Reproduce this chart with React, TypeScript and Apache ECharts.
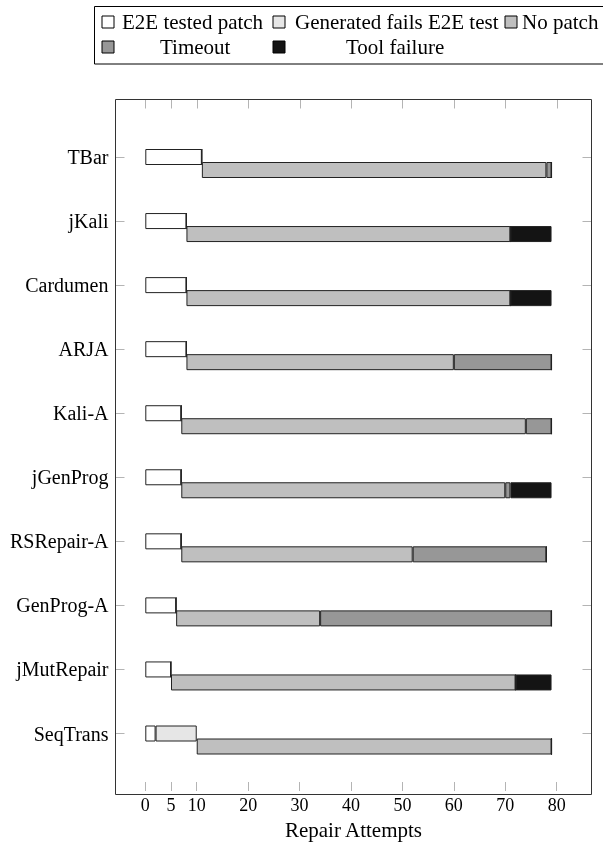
import React, { useEffect, useRef } from "react";
import * as echarts from "echarts";

const categories = ["TBar", "jKali", "Cardumen", "ARJA", "Kali-A", "jGenProg", "RSRepair-A", "GenProg-A", "jMutRepair", "SeqTrans"];
const e2eTested = [11, 8, 8, 8, 7, 7, 7, 6, 5, 2];
const generatedFails = [0, 0, 0, 0, 0, 0, 0, 0, 0, 8];
const noPatch = [67, 63, 63, 52, 67, 63, 45, 28, 67, 69];
const timeout = [1, 0, 0, 19, 5, 1, 26, 45, 0, 0];
const toolFailure = [0, 8, 8, 0, 0, 8, 0, 0, 7, 0];
const xTicks = [0, 5, 10, 20, 30, 40, 50, 60, 70, 80];

const FONT = "Liberation Serif";
const EDGE = "#222";
const TICK = "#b4b4b4";

export default function App() {
  const ref = useRef<HTMLDivElement>(null);
  useEffect(() => {
    if (!ref.current) return;
    const chart = echarts.init(ref.current, null, { renderer: "svg" });
    const base = e2eTested.map((v, i) => v + generatedFails[i]);
    const xMin = -5.795;
    const xMax = 86.77;
    const frameTop = 99.5;
    const barCommon = {
      type: "bar" as const,
      barWidth: 16,
      barGap: "-18.75%",
      clip: false,
    };
    const legendCommon = {
      orient: "horizontal" as const,
      padding: 0,
      itemWidth: 12,
      itemHeight: 12,
      selectedMode: false,
      icon: "rect",
      itemStyle: { borderColor: "#000", borderWidth: 1 },
    };
    const lt = (pad: number) => ({
      fontFamily: FONT,
      fontSize: 21,
      color: "#000",
      lineHeight: 22,
      padding: [0, 0, 0, pad],
    });
    chart.setOption({
      animation: false,
      grid: { left: 115.5, right: 11.5, top: 157, bottom: 109, containLabel: false },
      legend: [
        { ...legendCommon, data: ["E2E tested patch"], left: 101.5, top: 11, textStyle: lt(3) },
        { ...legendCommon, data: ["Generated fails E2E test"], left: 272.5, top: 11, textStyle: lt(5) },
        { ...legendCommon, data: ["No patch"], left: 504.5, top: 11, textStyle: lt(0) },
        { ...legendCommon, data: ["Timeout"], left: 101.5, top: 36, textStyle: lt(41) },
        { ...legendCommon, data: ["Tool failure"], left: 272.5, top: 36, textStyle: lt(56) },
      ],
      graphic: [
        {
          id: "legendFrame",
          type: "rect",
          shape: { x: 94.5, y: 6.5, width: 520, height: 57.5 },
          style: { fill: "none", stroke: "#000", lineWidth: 1 },
          silent: true,
        },
        {
          id: "plotFrame",
          type: "rect",
          shape: { x: 115.5, y: frameTop, width: 476, height: 695 },
          style: { fill: "none", stroke: "#333", lineWidth: 1 },
          silent: true,
          z: 100,
        },
      ],
      xAxis: [
        {
          type: "value",
          position: "bottom",
          offset: 57.5,
          min: xMin,
          max: xMax,
          splitLine: { show: false },
          axisLine: { show: false, onZero: false },
          axisTick: { show: true, inside: true, length: 9, lineStyle: { color: TICK }, customValues: xTicks },
          axisLabel: { fontFamily: FONT, fontSize: 18, color: "#000", margin: 5, customValues: xTicks },
          name: "Repair Attempts",
          nameLocation: "middle",
          nameGap: 28,
          nameTextStyle: { fontFamily: FONT, fontSize: 21, color: "#000" },
        },
      ],
      yAxis: [
        {
          type: "category",
          data: categories,
          inverse: true,
          boundaryGap: false,
          position: "left",
          axisLine: { show: false, onZero: false },
          axisTick: { show: true, inside: true, length: 9, lineStyle: { color: TICK } },
          axisLabel: { fontFamily: FONT, fontSize: 20, color: "#000", margin: 7 },
        },
        {
          type: "category",
          data: categories,
          inverse: true,
          boundaryGap: false,
          position: "right",
          axisLine: { show: false, onZero: false },
          axisTick: { show: true, inside: true, length: 9, lineStyle: { color: TICK } },
          axisLabel: { show: false },
        },
      ],
      series: [
        {
          ...barCommon,
          name: "_dummy",
          stack: "d",
          data: categories.map(() => 0),
          itemStyle: { color: "transparent", borderWidth: 0 },
          silent: true,
        },
        {
          ...barCommon,
          name: "E2E tested patch",
          stack: "u",
          data: e2eTested,
          itemStyle: { color: "#ffffff", borderColor: EDGE, borderWidth: 1 },
        },
        {
          ...barCommon,
          name: "Generated fails E2E test",
          stack: "u",
          data: generatedFails,
          itemStyle: { color: "#e6e6e6", borderColor: EDGE, borderWidth: 1 },
        },
        {
          ...barCommon,
          name: "_base",
          stack: "l",
          data: base,
          itemStyle: { color: "transparent", borderWidth: 0 },
          silent: true,
        },
        {
          ...barCommon,
          name: "No patch",
          stack: "l",
          data: noPatch,
          itemStyle: { color: "#bfbfbf", borderColor: EDGE, borderWidth: 1 },
        },
        {
          ...barCommon,
          name: "Timeout",
          stack: "l",
          data: timeout,
          itemStyle: { color: "#979797", borderColor: EDGE, borderWidth: 1 },
        },
        {
          ...barCommon,
          name: "Tool failure",
          stack: "l",
          data: toolFailure,
          itemStyle: { color: "#141414", borderColor: EDGE, borderWidth: 1 },
        },
      ],
    });
    // Top-edge ticks, placed through the x axis' own scale
    const topTicks = xTicks.map((v, i) => {
      const px = chart.convertToPixel({ xAxisIndex: 0 }, v) as number;
      const x = Math.round(px) + 0.5;
      return {
        id: "topTick" + i,
        type: "line",
        shape: { x1: x, y1: frameTop, x2: x, y2: frameTop + 9 },
        style: { stroke: TICK, lineWidth: 1 },
        silent: true,
        z: 50,
      };
    });
    chart.setOption({ graphic: topTicks });
    return () => chart.dispose();
  }, []);
  return <div ref={ref} style={{ position: "fixed", left: 0, top: 0, width: 603, height: 845 }} />;
}
